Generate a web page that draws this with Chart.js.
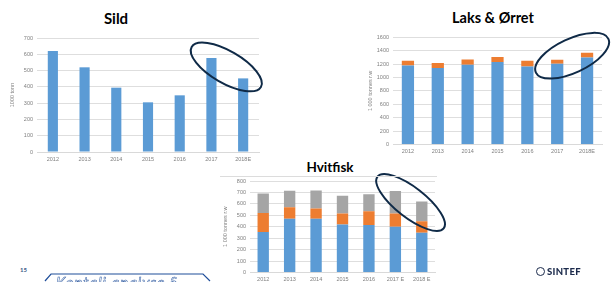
<!DOCTYPE html>
<html>
<head>
<meta charset="utf-8">
<script src="https://cdn.jsdelivr.net/npm/chart.js@4.4.1/dist/chart.umd.min.js"></script>
<style>
body { margin:0; width:611px; height:282px; overflow:hidden; background:#fff; position:relative; font-family:Lato, "Open Sans", sans-serif; }
canvas { position:absolute; }
.title { position:absolute; font-weight:bold; color:#000; white-space:nowrap; transform:translateX(-50%); line-height:1; }
</style>
</head>
<body>
<div class="title" style="left:116px;top:11px;font-size:15px">Sild</div>
<div class="title" style="left:493px;top:11px;font-size:14.5px">Laks &amp; Ørret</div>
<div class="title" style="left:330px;top:161px;font-size:13.5px">Hvitfisk</div>

<canvas id="sild" width="266" height="138" style="left:0;top:30px"></canvas>
<canvas id="laks" width="261" height="131" style="left:350px;top:30px"></canvas>
<canvas id="hvit" width="242" height="112" style="left:205px;top:170px"></canvas>

<div style="position:absolute;left:220px;top:176px;width:217px;height:1px;background:#dcdcdc"></div>

<div style="position:absolute;left:20px;top:266px;font-size:6px;font-weight:bold;color:#3b5a86">15</div>
<svg style="position:absolute;left:0;top:0" width="611" height="282">
  <polyline points="45,281 51,274 203,274 210,281" fill="none" stroke="#1f4e9a" stroke-width="1.2"/>
</svg>
<div style="position:absolute;left:56px;top:273px;font-size:15px;font-style:italic;color:#fff;-webkit-text-stroke:0.5px #1f4e9a;letter-spacing:1px;white-space:nowrap">Kontali analyse §</div>

<div style="position:absolute;left:536px;top:267px;width:7px;height:7px;border:1.5px solid #1c2b4c;border-radius:50%"></div>
<div style="position:absolute;left:547px;top:266px;font-size:9.5px;font-weight:900;color:#1c2b4c;letter-spacing:0.3px">SINTEF</div>

<script>
var years = ['2012', '2013', '2014', '2015', '2016', '2017', '2018E'];
var hvitYears = ['2012', '2013', '2014', '2015', '2016', '2017 E', '2018 E'];

var sildValues = [620, 520, 395, 305, 348, 577, 452];

var laksBlue = [1180, 1140, 1190, 1230, 1165, 1205, 1300];
var laksOrange = [70, 75, 80, 75, 85, 60, 70];

var hvitBlue = [355, 470, 470, 420, 415, 400, 348];
var hvitOrange = [165, 100, 90, 95, 120, 115, 100];
var hvitGray = [170, 145, 158, 155, 150, 197, 172];

var BLUE = '#5b9bd5', ORANGE = '#ed7d31', GRAY = '#a5a5a5';

// hand drawn ring round the last two bars
var ringPlugin = {
  id: 'ring',
  afterDraw: function(chart, args, opts) {
    if (!opts || !opts.a) return;
    var xs = chart.scales.x, ys = chart.scales.y;
    var cx = (xs.getPixelForValue(5) + xs.getPixelForValue(6)) / 2 + (opts.dx || 0);
    var cy = ys.getPixelForValue(opts.v);
    var ctx = chart.ctx;
    ctx.save();
    ctx.beginPath();
    ctx.ellipse(cx, cy, opts.a, opts.b, opts.rot * Math.PI / 180, 0, 2 * Math.PI);
    ctx.strokeStyle = '#0f2a47';
    ctx.lineWidth = 2;
    ctx.stroke();
    ctx.restore();
  }
};

function makeChart(id, labels, datasets, max, step, yTitle, barPct, yWidth, xHeight, titlePad, pad, ring) {
  return new Chart(document.getElementById(id), {
    type: 'bar',
    data: { labels: labels, datasets: datasets },
    options: {
      responsive: false,
      animation: false,
      layout: { padding: pad },
      datasets: { bar: { barPercentage: barPct, categoryPercentage: 1 } },
      plugins: {
        legend: { display: false },
        tooltip: { enabled: false },
        ring: ring
      },
      scales: {
        x: {
          stacked: true,
          grid: { display: false, drawTicks: false },
          border: { color: '#d9d9d9' },
          ticks: { color: '#808080', font: { size: 5.5 }, padding: 4, maxRotation: 0, autoSkip: false },
          afterFit: function(s) { s.height = xHeight; }
        },
        y: {
          stacked: true,
          min: 0,
          max: max,
          grid: { color: '#dedede', drawTicks: false },
          border: { display: false },
          ticks: {
            stepSize: step, color: '#808080', font: { size: 5.5 }, padding: 4,
            callback: function(v) { return String(v); }
          },
          title: { display: true, text: yTitle, color: '#808080', font: { size: 5.5 }, padding: { top: titlePad, bottom: 0 } },
          afterFit: function(s) { s.width = yWidth; }
        }
      }
    },
    plugins: [ringPlugin]
  });
}

makeChart('sild', years,
  [{ data: sildValues, backgroundColor: BLUE }],
  700, 100, '1000 tonn', 0.32, 37, 16, 9.5,
  { top: 8, right: 7, bottom: 0, left: 0 },
  { a: 40, b: 16, rot: 30, v: 522, dx: -1 });

makeChart('laks', years,
  [{ data: laksBlue, backgroundColor: BLUE }, { data: laksOrange, backgroundColor: ORANGE }],
  1600, 200, '1 000 tonnes r.w', 0.41, 43, 16.5, 17.5,
  { top: 7, right: 9, bottom: 0, left: 0 },
  { a: 40, b: 17, rot: -25, v: 1325, dx: 0 });

makeChart('hvit', hvitYears,
  [{ data: hvitBlue, backgroundColor: BLUE }, { data: hvitOrange, backgroundColor: ORANGE }, { data: hvitGray, backgroundColor: GRAY }],
  800, 100, '1 000 tonnes r.w', 0.43, 45, 9.5, 17.5,
  { top: 11, right: 12, bottom: 0, left: 0 },
  { a: 42, b: 15, rot: 38, v: 612, dx: 2 });
</script>
</body>
</html>
